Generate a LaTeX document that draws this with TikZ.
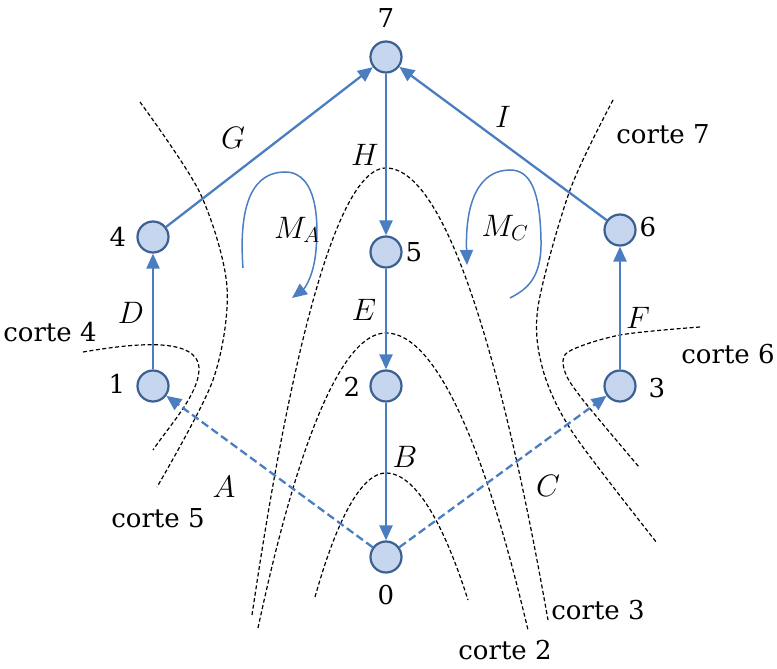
\RequirePackage{fix-cm}
\documentclass[tikz,border=0pt]{standalone}
\usepackage{fontspec}
\setmainfont{DejaVu Serif}
\usetikzlibrary{arrows.meta}

\definecolor{edgeblue}{RGB}{74,126,193}
\definecolor{nodefill}{RGB}{197,214,238}
\definecolor{nodeline}{RGB}{60,96,145}

\tikzset{
  vertex/.style={circle, draw=nodeline, fill=nodefill, line width=2.2pt,
    minimum size=31pt, inner sep=0pt},
  flow/.style={draw=edgeblue, line width=2.3pt, -{Triangle[length=15pt,width=13pt]}},
  backflow/.style={flow, dash pattern=on 8pt off 4pt},
  loopline/.style={draw=edgeblue, line width=1.5pt, -{Triangle[length=15pt,width=13pt]}},
  cut/.style={draw=black, line width=1.2pt, dash pattern=on 4pt off 2.5pt},
  numlbl/.style={font=\fontsize{26}{30}\selectfont, inner sep=0pt},
  edgelbl/.style={font=\fontsize{31}{36}\selectfont, inner sep=0pt},
}

\begin{document}
\begin{tikzpicture}[x=1pt, y=-1pt]
    \useasboundingbox (0,0) rectangle (777,669);

    % cuts
    \draw[cut] (252,615) parabola bend (386,168) (548,620);
    \draw[cut] (258,628) parabola bend (386,333) (528,630);
    \draw[cut] (315,597) parabola bend (386,473) (468,600);
    \draw[cut] (83,352) .. controls (130,344) and (200,335) .. (199,370)
               .. controls (198,395) and (170,425) .. (153,450);
    \draw[cut] plot[smooth] coordinates {(140,102) (200,193) (227,287) (213,380) (157,487)};
    \draw[cut] plot[smooth] coordinates {(613,100) (570,190) (538,307) (543,370) (573,433) (657,543)};
    \draw[cut] plot[smooth] coordinates {(700,327) (620,335) (568,352) (565,372) (583,400) (639,467)};

    \node[numlbl] (c4) at (50,332) {corte 4};
    \node[numlbl] (c5) at (158,518) {corte 5};
    \node[numlbl] (c7) at (663,134) {corte 7};
    \node[numlbl] (c6) at (728,354) {corte 6};
    \node[numlbl] (c3) at (598,610) {corte 3};
    \node[numlbl] (c2) at (505,650) {corte 2};

    % vertices
    \node[vertex] (n7) at (386,57) {};
    \node[vertex] (n4) at (153,237) {};
    \node[vertex] (n5) at (386,252) {};
    \node[vertex] (n6) at (620,230) {};
    \node[vertex] (n1) at (153,386) {};
    \node[vertex] (n2) at (386,386) {};
    \node[vertex] (n3) at (620,386) {};
    \node[vertex] (n0) at (386,557) {};

    \node[numlbl] (t7) at (386,18) {7};
    \node[numlbl] (t4) at (118,237) {4};
    \node[numlbl] (t5) at (414,252) {5};
    \node[numlbl] (t6) at (648,227) {6};
    \node[numlbl] (t1) at (117,384) {1};
    \node[numlbl] (t2) at (352,387) {2};
    \node[numlbl] (t3) at (657,388) {3};
    \node[numlbl] (t0) at (386,595) {0};

    % arcs
    \draw[flow] (n4) -- (n7);
    \draw[flow] (n6) -- (n7);
    \draw[flow] (n7) -- (n5);
    \draw[flow] (n5) -- (n2);
    \draw[flow] (n2) -- (n0);
    \draw[flow] (n1) -- (n4);
    \draw[flow] (n3) -- (n6);
    \draw[backflow] (n0) -- (n1);
    \draw[backflow] (n0) -- (n3);

    \node[edgelbl] (lG) at (233,138) {$G$};
    \node[edgelbl] (lH) at (365,155) {$H$};
    \node[edgelbl] (lI) at (503,117) {$I$};
    \node[edgelbl] (lD) at (131,313) {$D$};
    \node[edgelbl] (lE) at (364,310) {$E$};
    \node[edgelbl] (lF) at (638,318) {$F$};
    \node[edgelbl] (lB) at (405,457) {$B$};
    \node[edgelbl] (lA) at (224,487) {$A$};
    \node[edgelbl] (lC) at (548,486) {$C$};

    % meshes
    \draw[loopline] (243,268) .. controls (238,200) and (255,172) .. (285,172)
                    .. controls (320,172) and (318,230) .. (316,250)
                    .. controls (314,275) and (305,288) .. (292,298);
    \draw[loopline] (510,298) .. controls (525,290) and (542,280) .. (541,240)
                    .. controls (540,190) and (530,170) .. (510,170)
                    .. controls (480,170) and (465,200) .. (467,265);
    \node[edgelbl] (mA) at (297,230) {$M_A$};
    \node[edgelbl] (mC) at (505,228) {$M_C$};
\end{tikzpicture}
\end{document}
